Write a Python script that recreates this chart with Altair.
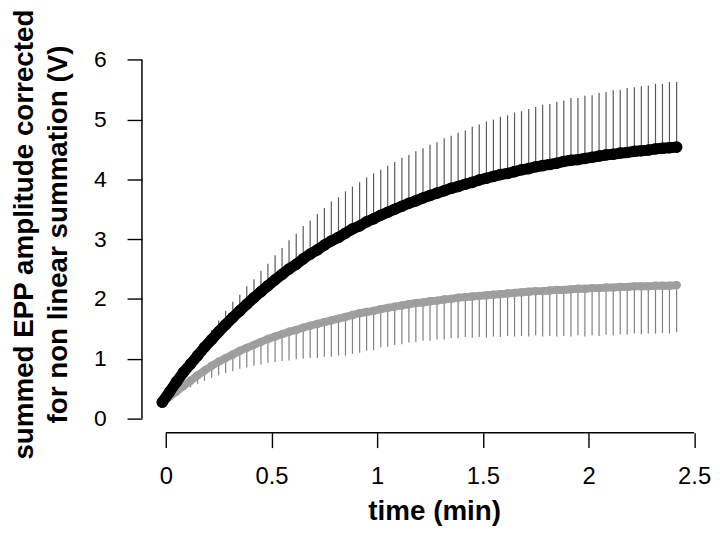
import altair as alt
import pandas as pd

# time of each sample (min)
time_min = [-0.017, 0.017, 0.050, 0.083, 0.117, 0.150, 0.183, 0.217, 0.250, 0.283,
            0.317, 0.350, 0.383, 0.417, 0.450, 0.483, 0.517, 0.550, 0.583, 0.617,
            0.650, 0.683, 0.717, 0.750, 0.783, 0.817, 0.850, 0.883, 0.917, 0.950,
            0.983, 1.017, 1.050, 1.083, 1.117, 1.150, 1.183, 1.217, 1.250, 1.283,
            1.317, 1.350, 1.383, 1.417, 1.450, 1.483, 1.517, 1.550, 1.583, 1.617,
            1.650, 1.683, 1.717, 1.750, 1.783, 1.817, 1.850, 1.883, 1.917, 1.950,
            1.983, 2.017, 2.050, 2.083, 2.117, 2.150, 2.183, 2.217, 2.250, 2.283,
            2.317, 2.350, 2.383, 2.417]

# black series (mean, upward error)
black_mean = [0.27, 0.44, 0.61, 0.77, 0.91, 1.05, 1.19, 1.32, 1.45, 1.57,
              1.69, 1.80, 1.91, 2.02, 2.12, 2.22, 2.32, 2.41, 2.50, 2.58,
              2.67, 2.75, 2.82, 2.90, 2.97, 3.03, 3.10, 3.17, 3.22, 3.29,
              3.34, 3.40, 3.45, 3.50, 3.55, 3.60, 3.64, 3.69, 3.73, 3.77,
              3.81, 3.85, 3.88, 3.92, 3.95, 3.99, 4.02, 4.05, 4.08, 4.10,
              4.13, 4.16, 4.18, 4.21, 4.23, 4.25, 4.27, 4.30, 4.32, 4.33,
              4.35, 4.37, 4.39, 4.41, 4.42, 4.44, 4.45, 4.47, 4.48, 4.49,
              4.51, 4.52, 4.53, 4.54]
black_err = [0.02, 0.03, 0.05, 0.07, 0.09, 0.11, 0.13, 0.16, 0.19, 0.23,
             0.26, 0.27, 0.30, 0.31, 0.35, 0.37, 0.41, 0.44, 0.48, 0.51,
             0.55, 0.56, 0.60, 0.62, 0.66, 0.67, 0.70, 0.71, 0.73, 0.74,
             0.76, 0.76, 0.78, 0.79, 0.81, 0.81, 0.83, 0.83, 0.85, 0.85,
             0.88, 0.88, 0.90, 0.90, 0.93, 0.93, 0.95, 0.95, 0.97, 0.97,
             0.99, 0.98, 1.00, 1.00, 1.02, 1.01, 1.03, 1.02, 1.04, 1.03,
             1.05, 1.04, 1.06, 1.05, 1.07, 1.06, 1.08, 1.07, 1.08, 1.08,
             1.09, 1.08, 1.10, 1.09]

# grey series (mean, downward error)
gray_mean = [0.27, 0.36, 0.45, 0.54, 0.63, 0.72, 0.80, 0.88, 0.95, 1.01,
             1.07, 1.13, 1.18, 1.23, 1.28, 1.33, 1.37, 1.41, 1.45, 1.48,
             1.52, 1.55, 1.58, 1.61, 1.64, 1.67, 1.70, 1.73, 1.76, 1.78,
             1.80, 1.83, 1.85, 1.87, 1.89, 1.91, 1.93, 1.94, 1.96, 1.97,
             1.99, 2.00, 2.02, 2.03, 2.04, 2.05, 2.06, 2.07, 2.08, 2.09,
             2.10, 2.11, 2.12, 2.13, 2.13, 2.14, 2.15, 2.15, 2.16, 2.17,
             2.17, 2.18, 2.18, 2.19, 2.19, 2.20, 2.20, 2.21, 2.21, 2.21,
             2.22, 2.22, 2.22, 2.23]
gray_err = [0.02, 0.04, 0.06, 0.08, 0.11, 0.14, 0.17, 0.20, 0.23, 0.25,
            0.28, 0.30, 0.33, 0.35, 0.38, 0.40, 0.43, 0.45, 0.48, 0.49,
            0.52, 0.54, 0.57, 0.58, 0.61, 0.62, 0.65, 0.65, 0.66, 0.65,
            0.66, 0.64, 0.65, 0.64, 0.65, 0.64, 0.65, 0.64, 0.66, 0.65,
            0.67, 0.66, 0.68, 0.67, 0.69, 0.69, 0.71, 0.70, 0.72, 0.71,
            0.73, 0.73, 0.75, 0.74, 0.76, 0.76, 0.78, 0.77, 0.79, 0.78,
            0.80, 0.79, 0.80, 0.79, 0.80, 0.79, 0.80, 0.79, 0.80, 0.79,
            0.80, 0.79, 0.80, 0.79]

x_ticks = [0, 0.5, 1, 1.5, 2, 2.5]
y_ticks = [0, 1, 2, 3, 4, 5, 6]

df = pd.DataFrame({"t": time_min, "bm": black_mean, "be": black_err,
                   "gm": gray_mean, "ge": gray_err})
df["btop"] = df["bm"] + df["be"]
df["gbot"] = df["gm"] - df["ge"]

W, H = 562.5, 390.2
FONT = "Liberation Sans"
xs = alt.Scale(domain=[-0.113, 2.528], nice=False, zero=False)
ys = alt.Scale(domain=[-0.24, 6.24], nice=False, zero=False)

x_axis = alt.Axis(values=x_ticks, domain=False, grid=False, tickSize=15, tickWidth=1.4,
                  tickColor="black", labelFont=FONT, labelFontSize=24, labelColor="black",
                  labelPadding=17, labelExpr="datum.value + ''",
                  title="time (min)", titleFont=FONT, titleFontSize=28, titleFontWeight="bold",
                  titleColor="black", titleX=294.5, titleY=87, titleBaseline="alphabetic",
                  titleAlign="center")
y_axis = alt.Axis(values=y_ticks, domain=False, grid=False, tickSize=15, tickWidth=1.4,
                  tickColor="black", labelFont=FONT, labelFontSize=23, labelColor="black",
                  labelPadding=21,
                  title=["summed EPP amplitude corrected", "for non linear summation (V)"],
                  titleFont=FONT, titleFontSize=28, titleFontWeight="bold", titleColor="black",
                  titleAngle=270, titleX=-110, titleY=190, titleBaseline="alphabetic",
                  titleAlign="center", titleLineHeight=34)

X = alt.X("t:Q", scale=xs, axis=x_axis)
base = alt.Chart(df)

gray_bars = base.mark_rule(color="#808080", strokeWidth=1.2).encode(
    x=X, y=alt.Y("gm:Q", scale=ys, axis=y_axis), y2="gbot:Q")
gray_line = base.mark_line(color="#a3a3a3", strokeWidth=8, strokeCap="round").encode(
    x=X, y=alt.Y("gm:Q", scale=ys, axis=y_axis))
gray_pts = base.mark_circle(size=70, color="#9e9e9e", opacity=1).encode(
    x=X, y=alt.Y("gm:Q", scale=ys, axis=y_axis))
black_bars = base.mark_rule(color="#5a5a5a", strokeWidth=1.2).encode(
    x=X, y=alt.Y("bm:Q", scale=ys, axis=y_axis), y2="btop:Q")
black_line = base.mark_line(color="black", strokeWidth=11, strokeCap="round").encode(
    x=X, y=alt.Y("bm:Q", scale=ys, axis=y_axis))
black_pts = base.mark_circle(size=135, color="black", opacity=1).encode(
    x=X, y=alt.Y("bm:Q", scale=ys, axis=y_axis))

yline = alt.Chart(pd.DataFrame({"a": [y_ticks[0]], "b": [y_ticks[-1]]})).mark_rule(
    color="black", strokeWidth=1.5).encode(
    x=alt.value(0), y=alt.Y("a:Q", scale=ys, axis=y_axis), y2="b:Q")
xline = alt.Chart(pd.DataFrame({"a": [x_ticks[0]], "b": [x_ticks[-1]]})).mark_rule(
    color="black", strokeWidth=1.5).encode(
    y=alt.value(H), x=alt.X("a:Q", scale=xs, axis=x_axis), x2="b:Q")

chart = alt.layer(gray_bars, gray_line, gray_pts, black_bars, black_line, black_pts,
                  yline, xline).properties(
    width=W, height=H,
    autosize=alt.AutoSizeParams(type="none"),
    padding={"left": 135, "top": 35.8, "right": 12, "bottom": 95},
    background="white",
).configure_view(stroke=None)

chart.save("out.html", embed_options={"renderer": "svg", "actions": False})
